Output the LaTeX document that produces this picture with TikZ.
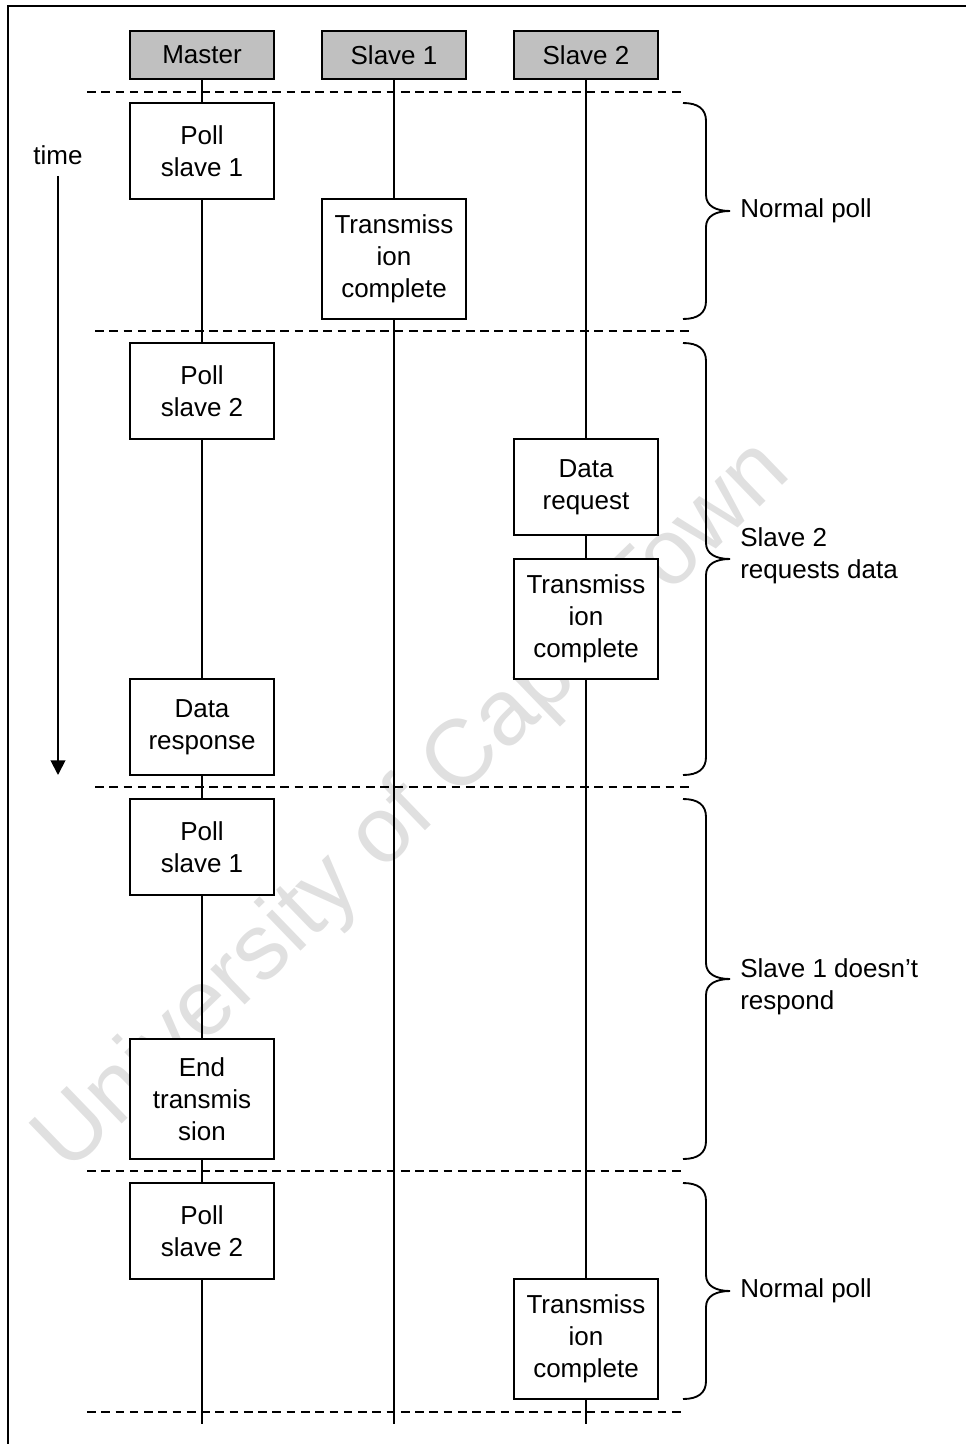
\documentclass[tikz,border=0pt]{standalone}
\usepackage{fontspec}
\setmainfont{Liberation Sans}
\usetikzlibrary{arrows.meta}
\definecolor{headgray}{HTML}{C0C0C0}
\definecolor{markgray}{HTML}{E0E0E0}
\newcommand\sidebrace[3]{%
  \draw[bracepen] (683,#1) .. controls (698,#1) and (706,{#1+6}) .. (706,{#1+18})
    -- (706,{#2-16}) .. controls (706,{#2-5}) and (716,#2) .. (730,#2)
    .. controls (716,#2) and (706,{#2+5}) .. (706,{#2+16})
    -- (706,{#3-18}) .. controls (706,{#3-6}) and (698,#3) .. (683,#3);}
\begin{document}
\begin{tikzpicture}[x=0.75pt,y=-0.75pt,
  every node/.style={font=\fontsize{19.5pt}{24pt}\selectfont, align=center, inner sep=0pt},
  stepbox/.style={draw, line width=1.4pt, fill=white, minimum width=108pt, minimum height=72pt},
  tallbox/.style={stepbox, minimum height=90pt},
  headbox/.style={draw, line width=1.4pt, fill=headgray, minimum width=108pt, minimum height=36pt},
  life/.style={line width=1.4pt},
  phase/.style={dashed, dash pattern=on 6.5pt off 4.2pt, line width=1.1pt},
  bracepen/.style={line width=1.4pt},
  phaselabel/.style={anchor=west, align=left}]
\useasboundingbox (0,0) rectangle (966,1444);
\clip (0,0) rectangle (966,1444);

% page frame
\draw[line width=1.5pt] (8,1460) -- (8,6) -- (990,6);

% watermark
\node[text=markgray, font=\fontsize{70pt}{78pt}\selectfont, rotate=44] (watermark) at (414,808) {University of Cape Town};

% participants
\node[headbox] (mh) at (202,55) {Master};
\node[headbox] (s1h) at (394,55) {Slave 1};
\node[headbox] (s2h) at (586,55) {Slave 2};

% activity boxes
\node[stepbox] (p1) at (202,151) {Poll\\slave 1};
\node[tallbox] (t1) at (394,259) {Transmiss\\ion\\complete};
\node[stepbox] (p2) at (202,391) {Poll\\slave 2};
\node[stepbox] (dreq) at (586,487) {Data\\request};
\node[tallbox] (t2) at (586,619) {Transmiss\\ion\\complete};
\node[stepbox] (dresp) at (202,727) {Data\\response};
\node[stepbox] (p3) at (202,847) {Poll\\slave 1};
\node[tallbox] (endt) at (202,1099) {End\\transmis\\sion};
\node[stepbox] (p4) at (202,1231) {Poll\\slave 2};
\node[tallbox] (t3) at (586,1339) {Transmiss\\ion\\complete};

\coordinate (mend) at (202,1424);
\coordinate (s1end) at (394,1424);
\coordinate (s2end) at (586,1424);

% lifelines
\draw[life] (mh.south) -- (p1.north);
\draw[life] (p1.south) -- (p2.north);
\draw[life] (p2.south) -- (dresp.north);
\draw[life] (dresp.south) -- (p3.north);
\draw[life] (p3.south) -- (endt.north);
\draw[life] (endt.south) -- (p4.north);
\draw[life] (p4.south) -- (mend);
\draw[life] (s1h.south) -- (t1.north);
\draw[life] (t1.south) -- (s1end);
\draw[life] (s2h.south) -- (dreq.north);
\draw[life] (dreq.south) -- (t2.north);
\draw[life] (t2.south) -- (t3.north);
\draw[life] (t3.south) -- (s2end);

% phase separators
\draw[phase] (87,92) -- (683,92);
\draw[phase] (95,331) -- (690,331);
\draw[phase] (95,787) -- (690,787);
\draw[phase] (87,1171) -- (683,1171);
\draw[phase] (87,1412) -- (683,1412);

% time axis
\node (time) at (58,155) {time};
\coordinate (tstart) at (58,176);
\coordinate (tend) at (58,775);
\draw[line width=1.4pt, -{Triangle[width=11pt,length=11pt]}] (tstart) -- (tend);

% phase braces and labels
\sidebrace{103}{211}{319}
\sidebrace{343}{559}{775}
\sidebrace{799}{979}{1159}
\sidebrace{1183}{1291}{1399}
\node[phaselabel] (l1) at (740,211) {Normal poll};
\node[phaselabel] (l2) at (740,556) {Slave 2\\requests data};
\node[phaselabel] (l3) at (740,987) {Slave 1 doesn't\\respond};
\node[phaselabel] (l4) at (740,1291) {Normal poll};
\end{tikzpicture}
\end{document}
